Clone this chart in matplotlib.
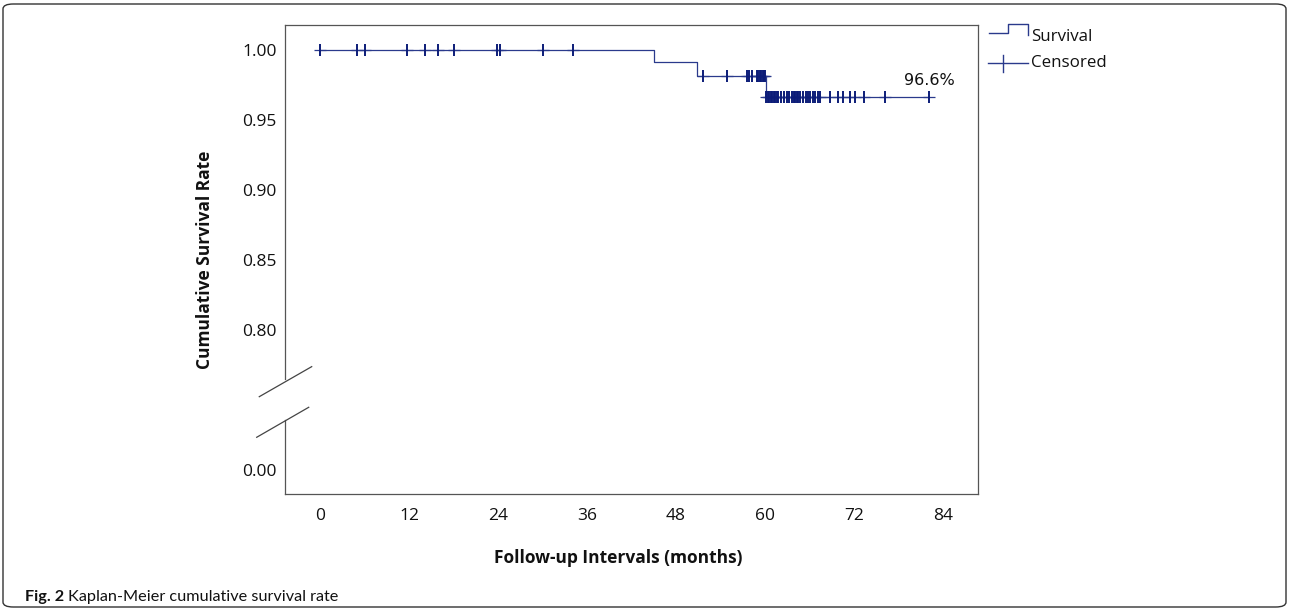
import matplotlib
matplotlib.use("Agg")
import matplotlib.pyplot as plt
from matplotlib.lines import Line2D
from matplotlib.patches import FancyBboxPatch
import numpy as np

# ---- data ----
event_times = [0.0, 45.0, 50.8, 60.1]
event_surv = [1.000, 0.991, 0.981, 0.966]
censor_times = [0.0, 5.0, 6.0, 11.7, 14.2, 15.9, 18.0, 23.8, 24.3, 30.0, 34.1,
                51.6, 54.9, 57.6, 57.9, 58.3, 58.9, 59.1, 59.3, 59.5, 59.7, 59.9, 60.0,
                60.2, 60.4, 60.6, 60.8, 61.0, 61.2, 61.4, 61.6, 61.8,
                62.1, 62.5, 62.9, 63.2, 63.6, 63.9, 64.1, 64.3, 64.5, 64.7,
                65.1, 65.5, 65.8, 66.1, 66.5, 66.8, 67.1, 67.4, 68.7, 69.9,
                70.5, 71.4, 72.2, 73.4, 76.2, 82.1]
end_time = 82.1
final_label = "96.6%"
x_ticks = [0, 12, 24, 36, 48, 60, 72, 84]
y_ticks = [1.00, 0.95, 0.90, 0.85, 0.80]
y_zero_pos = 0.70          # position on the broken axis where "0.00" is drawn
y_zero_label = "0.00"

W, H = 1290, 611
fig = plt.figure(figsize=(W / 100, H / 100), dpi=100)
fig.patch.set_facecolor("white")

def fx(px):
    return px / W

def fy(py):
    return 1 - py / H

ax = fig.add_axes([fx(285), fy(494.3), fx(978.3) - fx(285), fy(25) - fy(494.3)])

navy = "#2a3a8c"
mark = "#0c1c78"
spine_c = "#555555"

# survival step curve
times = list(event_times) + [end_time]
survs = list(event_surv) + [event_surv[-1]]
ax.step(times, survs, where="post", color=navy, lw=0.9)

# censored marks
def surv_at(t):
    s = event_surv[0]
    for et, ev in zip(event_times, event_surv):
        if et <= t:
            s = ev
    return s

cy = [surv_at(t) for t in censor_times]
ax.plot(censor_times, cy, linestyle="none", marker="_", markersize=8.5,
        markeredgewidth=0.9, color=navy)
ax.plot(censor_times, cy, linestyle="none", marker="|", markersize=8.3,
        markeredgewidth=1.4, color=mark)

ax.annotate(final_label, xy=(end_time, event_surv[-1]), xytext=(0, 7),
            textcoords="offset points", ha="center", va="bottom",
            fontsize=11.5, family="DejaVu Sans", color="#111111")

ax.set_xlim(-4.72, 88.76)
ax.set_ylim(0.68243, 1.01764)
ax.set_xticks(x_ticks)
ax.set_xticklabels([str(v) for v in x_ticks])
ax.set_yticks(y_ticks + [y_zero_pos])
ax.set_yticklabels(["%.2f" % v for v in y_ticks] + [y_zero_label])
ax.tick_params(length=0, labelsize=12.5, pad=6, colors="#111111")
for lab in ax.get_xticklabels() + ax.get_yticklabels():
    lab.set_family("Open Sans")
ax.tick_params(axis="x", pad=10)

for s in ["top", "right", "bottom"]:
    ax.spines[s].set_color(spine_c)
    ax.spines[s].set_linewidth(0.9)
ax.spines["left"].set_visible(False)

# broken left axis
gap_lo, gap_hi = 0.158, 0.2457
ax.plot([0, 0], [0, gap_lo], transform=ax.transAxes, color=spine_c, lw=0.9, clip_on=False)
ax.plot([0, 0], [gap_hi, 1], transform=ax.transAxes, color=spine_c, lw=0.9, clip_on=False)
ax.plot([-0.0371, 0.0385], [0.208, 0.272], transform=ax.transAxes, color="#444444", lw=0.9, clip_on=False)
ax.plot([-0.0408, 0.0342], [0.1215, 0.1854], transform=ax.transAxes, color="#444444", lw=0.9, clip_on=False)

ax.set_xlabel("Follow-up Intervals (months)", family="Open Sans", fontweight="bold",
              fontsize=12.5, color="#111111")
ax.xaxis.set_label_coords(0.48, (494.3 - 558) / 469.3)
ax.xaxis.label.set_va("center")
ax.set_ylabel("Cumulative Survival Rate", family="Open Sans", fontweight="bold",
              fontsize=12.5, color="#111111")
ax.yaxis.set_label_coords((205 - 285) / 693.3, 0.5)
ax.yaxis.label.set_va("center")

# legend (drawn manually like SPSS)
tf = fig.transFigure
def seg(xs, ys, **kw):
    fig.add_artist(Line2D([fx(x) for x in xs], [fy(y) for y in ys], transform=tf, **kw))

seg([989, 1008.3, 1008.3, 1028.3, 1028.3], [33.3, 33.3, 24, 24, 35], color=navy, lw=1.0)
seg([988, 1028], [62.7, 62.7], color=navy, lw=1.0)
seg([1003, 1003], [55, 71.7], color=navy, lw=1.0)
fig.text(fx(1031), fy(36.7), "Survival", family="Open Sans", fontsize=12.2,
         va="center", ha="left", color="#111111")
fig.text(fx(1031), fy(63.3), "Censored", family="Open Sans", fontsize=12.2,
         va="center", ha="left", color="#111111")

# caption
t1 = fig.text(fx(25), fy(601), "Fig. 2", family="Lato", fontweight="bold",
              fontsize=11.7, va="baseline", ha="left", color="#111111")
fig.canvas.draw()
bb = t1.get_window_extent()
fig.text((bb.x1 + 4) / W, fy(601), "Kaplan-Meier cumulative survival rate", family="Lato",
         fontsize=11.7, va="baseline", ha="left", color="#111111")

# outer rounded frame
frame = FancyBboxPatch((fx(3), fy(607)), fx(1286) - fx(3), fy(4) - fy(607),
                       boxstyle="round,pad=0,rounding_size=0.008", transform=tf,
                       fill=False, edgecolor="#333333", lw=1.0)
fig.add_artist(frame)

fig.savefig("out.png", dpi=100, facecolor="white")
